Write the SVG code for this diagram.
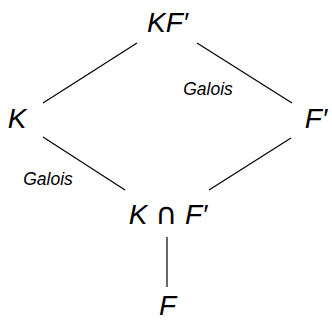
<svg xmlns="http://www.w3.org/2000/svg" width="332" height="320" viewBox="0 0 332 320">
<style>
.n{font-family:"Liberation Sans",Arial,sans-serif;font-style:italic;font-size:28px;fill:#000;text-anchor:middle}
.u{font-style:normal;font-family:"DejaVu Sans","Liberation Sans",sans-serif;font-size:30px}
.l{font-family:"Liberation Sans",Arial,sans-serif;font-style:italic;font-size:17.5px;fill:#000;text-anchor:middle}
.e{stroke:#000;stroke-width:1.2;fill:none}
</style>
<rect width="332" height="320" fill="#fff"/>
<g id="connectors">
<line class="e" x1="137" y1="43" x2="43" y2="103"/>
<line class="e" x1="197" y1="43" x2="292" y2="103"/>
<line class="e" x1="43" y1="137" x2="125" y2="190"/>
<line class="e" x1="291" y1="138" x2="209" y2="190"/>
<line class="e" x1="167" y1="237" x2="167" y2="287"/>
<text class="l" x="48" y="185">Galois</text>
<text class="l" x="208" y="95">Galois</text>
</g>
<g id="KFp"><text class="n" x="167.5" y="32">KF′</text></g>
<g id="K"><text class="n" x="17" y="128">K</text></g>
<g id="Fp"><text class="n" x="316" y="128">F′</text></g>
<g id="KcapFp"><text class="n" x="168" y="223.5">K <tspan class="u">∩</tspan> F′</text></g>
<g id="F"><text class="n" x="167.5" y="315">F</text></g>
</svg>
